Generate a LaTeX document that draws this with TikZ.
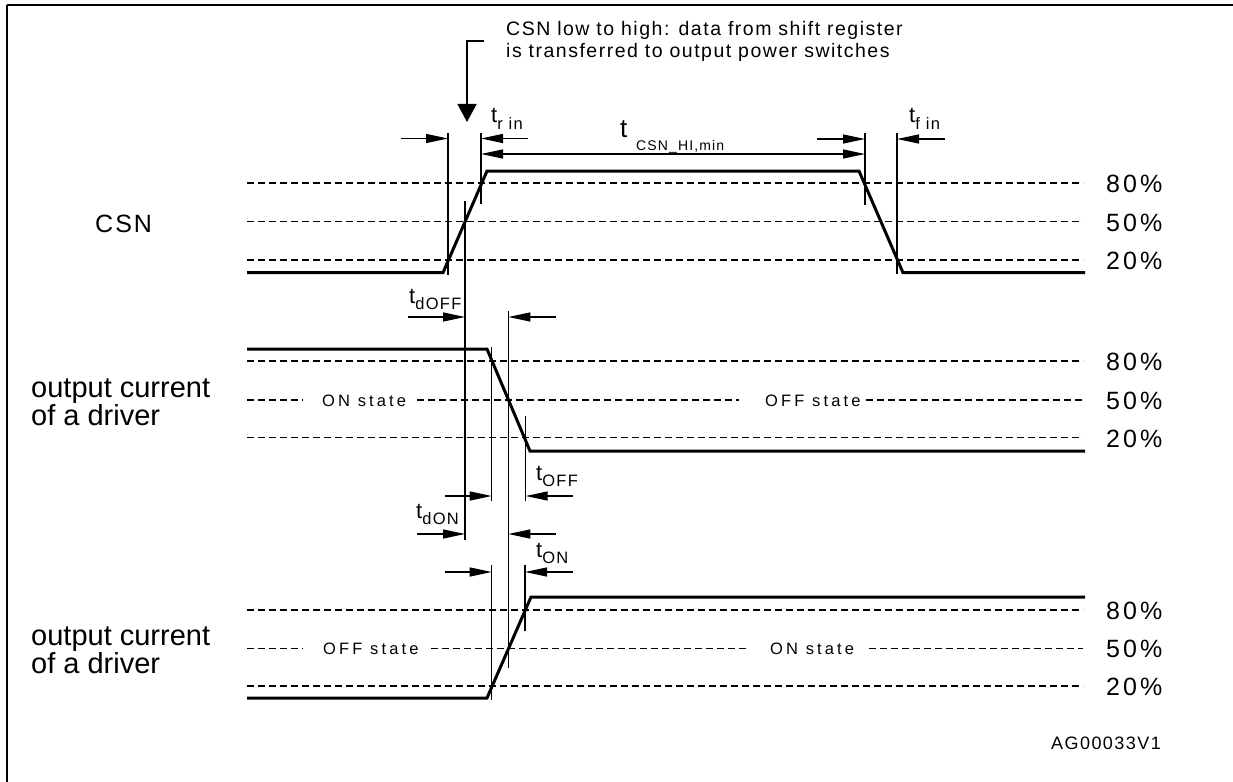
\documentclass[tikz,border=0pt]{standalone}
\usepackage{fontspec}
\setmainfont{Liberation Sans}
\newfontfamily\pctfont[LetterSpace=12]{Liberation Sans}
\newfontfamily\csnfont[LetterSpace=8]{Liberation Sans}
\newfontfamily\stfont[LetterSpace=19]{Liberation Sans}
\newfontfamily\annfont[LetterSpace=7.7]{Liberation Sans}
\newfontfamily\subfont[LetterSpace=8]{Liberation Sans}
\newfontfamily\idfont[LetterSpace=8]{Liberation Sans}
\usetikzlibrary{arrows.meta}
\newcommand\tlbl[1]{{\fontsize{22}{22}\selectfont t}\raisebox{-6pt}{\subfont\fontsize{16.5}{16.5}\selectfont #1}}
\tikzset{
  sig/.style={line width=3pt, line join=miter},
  guide/.style={line width=1.3pt},
  lvl/.style={line width=1.3pt, dash pattern=on 7pt off 4pt},
  dimarr/.style={line width=1.3pt, -{Triangle[length=22pt,width=9pt]}},
  pct/.style={anchor=west, inner sep=0pt, font=\pctfont\fontsize{25}{25}\selectfont},
  tl/.style={anchor=base west, inner sep=0pt},
  st/.style={anchor=west, inner sep=0pt, font=\stfont\fontsize{16.5}{16.5}\selectfont},
  drv/.style={anchor=base west, inner sep=0pt, align=left, font=\fontsize{29}{28}\selectfont},
}
\begin{document}
\begin{tikzpicture}[x=1pt,y=-1pt]
\useasboundingbox (0,0) rectangle (1233,781);
% frame
\draw[line width=2pt] (7,5.5) -- (1240,5.5);
\draw[line width=2pt] (7,5.5) -- (7,790);

% annotation (base anchor = baseline of the last line)
\node[anchor=base west, inner sep=0pt, align=left, font=\annfont\fontsize{19.5}{22}\selectfont] (ann) at (506,58)
  {CSN low to high: data from shift register\\is transferred to output power switches};
\coordinate (annA) at (484,41);
\coordinate (annB) at (467,41);
\coordinate (annC) at (467,122);
\draw[line width=1.5pt, -{Triangle[length=18pt,width=19pt]}] (annA) -- (annB) -- (annC);

% ---------- level lines ----------
\foreach \y in {183,221.7,260,361,437.7,610,686}
  \draw[lvl] (247,\y) -- (1083,\y);
\draw[lvl] (247,400) -- (303,400);
\draw[lvl] (417,400) -- (739,400);
\draw[lvl] (866,400) -- (1083,400);
\draw[lvl] (247,648.3) -- (303,648.3);
\draw[lvl] (431,648.3) -- (747,648.3);
\draw[lvl] (869,648.3) -- (1083,648.3);

% percent labels
\foreach \y/\t [count=\i] in {183/80,221.7/50,260/20,361/80,400/50,437.7/20,610/80,648.3/50,686/20}
  \node[pct] (p\i) at (1106,\y+1) {\t\%};

% state labels
\node[st] (on1) at (322,401) {ON state};
\node[st] (off1) at (765,401) {OFF state};
\node[st] (off2) at (323,649) {OFF state};
\node[st] (on2) at (770,649) {ON state};

% left labels
\node[anchor=west, inner sep=0pt, font=\csnfont\fontsize{25}{25}\selectfont] (csn) at (95,224) {CSN};
\node[drv] (drv1) at (31,425) {output current\\of a driver};
\node[drv] (drv2) at (31,673) {output current\\of a driver};

% ---------- signals ----------
\draw[sig] (247,272.7) -- (443,272.7) -- (487,171) -- (859,171) -- (903,272.7) -- (1085,272.7);
\draw[sig] (247,349) -- (487,349) -- (530,451) -- (1085,451);
\draw[sig] (247,698) -- (487,698) -- (531,597) -- (1085,597);

% ---------- guide verticals ----------
\draw[guide] (448,133) -- (448,275);
\draw[guide] (481,133) -- (481,204);
\draw[guide] (465,201) -- (465,540);
\draw[guide] (865,133) -- (865,205);
\draw[guide] (897,133) -- (897,274);
\draw[guide] (491.7,347) -- (491.7,501);
\draw[guide] (508.3,311) -- (508.3,668);
\draw[guide] (525.7,416) -- (525.7,501);
\draw[guide] (491.7,565) -- (491.7,700);
\draw[guide] (525,565) -- (525,631);

% ---------- dimension arrows ----------
\draw[dimarr] (400.7,138.5) -- (448,138.5);
\draw[dimarr] (528,138.5) -- (481,138.5);
\draw[line width=1.3pt, {Triangle[length=22pt,width=9pt]}-{Triangle[length=22pt,width=9pt]}] (481,154) -- (865,154);
\draw[dimarr] (817,139) -- (865,139);
\draw[dimarr] (945,139) -- (897,139);
\draw[dimarr] (408,317) -- (465,317);
\draw[dimarr] (556,317) -- (508.3,317);
\draw[dimarr] (445,496) -- (491.7,496);
\draw[dimarr] (573,496) -- (525.7,496);
\draw[dimarr] (417,534) -- (465,534);
\draw[dimarr] (556,534) -- (508.3,534);
\draw[dimarr] (445,572) -- (491.7,572);
\draw[dimarr] (573,572) -- (525,572);

% ---------- timing labels ----------
\node[tl] (trin) at (491,123) {\tlbl{r in}};
\node[tl] (tfin) at (909,123) {\tlbl{f in}};
\node[tl] (tdoff) at (409,303) {\tlbl{dOFF}};
\node[tl] (toff) at (536,480) {\tlbl{OFF}};
\node[tl] (tdon) at (416,518) {\tlbl{dON}};
\node[tl] (ton) at (536,557) {\tlbl{ON}};
\node[tl, font=\fontsize{26}{26}\selectfont] (tcsn) at (620,138) {t};
\node[tl, font=\subfont\fontsize{14}{14}\selectfont] (tcsnsub) at (636,150) {CSN\_HI,min};

% id
\node[anchor=east, inner sep=0pt, font=\idfont\fontsize{18}{18}\selectfont] (id) at (1161,743) {AG00033V1};
\end{tikzpicture}
\end{document}
